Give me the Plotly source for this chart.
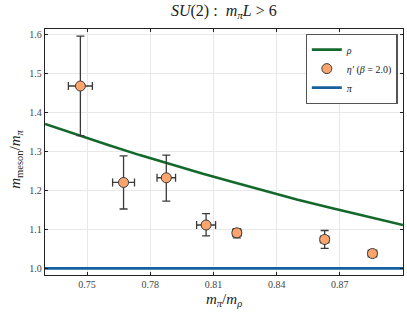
import plotly.graph_objects as go

# eta' data (beta = 2.0)
eta_x = [0.7468, 0.7673, 0.7876, 0.8065, 0.8211, 0.8628, 0.8855]
eta_y = [1.467, 1.220, 1.232, 1.111, 1.091, 1.074, 1.038]
eta_yerr_plus = [0.128, 0.068, 0.058, 0.029, 0.011, 0.023, 0.007]
eta_yerr_minus = [0.127, 0.068, 0.060, 0.028, 0.013, 0.023, 0.007]
eta_xerr = [0.0057, 0.0052, 0.0044, 0.0045, 0.0020, 0.0020, 0.0020]

# rho curve
rho_x = [0.73, 0.745, 0.76, 0.775, 0.79, 0.805, 0.82, 0.835, 0.85, 0.865, 0.88, 0.90]
rho_y = [1.370, 1.342, 1.316, 1.290, 1.266, 1.242, 1.220, 1.198, 1.176, 1.156, 1.136, 1.111]

# pi line
pi_x = [0.73, 0.90]
pi_y = [1.0, 1.0]

x_ticks = [0.75, 0.78, 0.81, 0.84, 0.87]
y_ticks = [1.0, 1.1, 1.2, 1.3, 1.4, 1.5, 1.6]

serif = "Liberation Serif, DejaVu Serif, serif"

fig = go.Figure()
fig.add_trace(go.Scatter(x=rho_x, y=rho_y, mode="lines", name="<i>ρ</i>",
                         line=dict(color="#13692c", width=2.6)))
fig.add_trace(go.Scatter(
    x=eta_x, y=eta_y, mode="markers", name="<i>η′</i> (<i>β</i> = 2.0)",
    marker=dict(size=10, color="#fba46e", line=dict(color="#3a3a3a", width=1)),
    error_y=dict(type="data", symmetric=False, array=eta_yerr_plus,
                 arrayminus=eta_yerr_minus, color="#3a3a3a", thickness=1.3, width=4),
    error_x=dict(type="data", array=eta_xerr, color="#3a3a3a", thickness=1.3, width=4),
))
fig.add_trace(go.Scatter(x=pi_x, y=pi_y, mode="lines", name="<i>π</i>",
                         line=dict(color="#17609f", width=2.6)))

axis_common = dict(
    showline=True, linecolor="#222", linewidth=1.3, mirror="ticks",
    ticks="inside", ticklen=3, tickcolor="#222", automargin=False,
    showgrid=True, gridcolor="#e8e8e8", gridwidth=1, zeroline=False,
    tickfont=dict(family=serif, size=10, color="#444"),
)

title_font = dict(family=serif, size=15, color="#222")

fig.update_layout(
    width=407, height=313,
    margin=dict(l=45, r=4, t=29, b=38),
    paper_bgcolor="white", plot_bgcolor="white",
    title=dict(text="<i>SU</i>(2) :  <i>m</i><sub><i>π</i></sub><i>L</i> > 6",
               x=0.55, xanchor="center", y=0.985, yanchor="top",
               font=dict(family=serif, size=16, color="#222"), automargin=False),
    xaxis=dict(range=[0.73, 0.90], tickvals=x_ticks, tickformat=".2f", **axis_common),
    yaxis=dict(range=[0.983, 1.613], tickvals=y_ticks, tickformat=".1f", **axis_common),
    legend=dict(x=0.985, y=0.98, xanchor="right", yanchor="top",
                bgcolor="white", bordercolor="#555", borderwidth=1.2,
                font=dict(family=serif, size=10, color="#222"),
                tracegroupgap=0, itemwidth=30),
    showlegend=True,
    annotations=[
        dict(text="<i>m</i><sub><i>π</i></sub>/<i>m</i><sub><i>ρ</i></sub>",
             xref="paper", yref="paper", x=0.5, y=-0.1, xanchor="center", yanchor="middle",
             showarrow=False, font=title_font),
        dict(text="<i>m</i><sub>meson</sub>/<i>m</i><sub><i>π</i></sub>",
             xref="paper", yref="paper", x=-0.08, y=0.47, xanchor="center", yanchor="middle",
             textangle=-90, showarrow=False, font=title_font),
    ],
)

fig.write_html("out.html", config={"displayModeBar": False},
               post_script="document.body.style.margin='0';document.body.style.overflow='hidden';")
